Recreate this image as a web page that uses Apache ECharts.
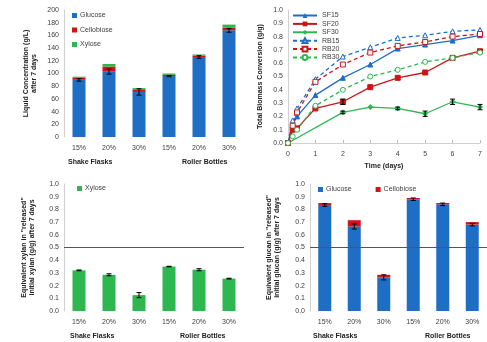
<!DOCTYPE html>
<html>
<head>
<meta charset="utf-8">
<script src="https://cdn.jsdelivr.net/npm/echarts@6/dist/echarts.min.js"></script>
<style>
  html, body { margin: 0; padding: 0; background: #fff; }
  #chart { width: 487px; height: 342px; }
</style>
</head>
<body>
<div id="chart"></div>
<script>
// data
const categories = ['15%', '20%', '30%', '15%', '20%', '30%'];
const groupLabels = ['Shake Flasks', 'Roller Bottles'];

// top-left: liquid concentration (g/L)
const liqGlucose = [90, 103, 71, 96, 126, 168];
const liqCellobiose = [3, 8, 3, 2, 2, 4];
const liqXylose = [2, 4, 3, 2, 2, 5];
const liqGlucoseErr = [2, 4, 5, 1, 2, 3];

// top-right: total biomass conversion over time
const days = [0, 0.17, 0.33, 1, 2, 3, 4, 5, 6, 7];
const sf15 = [0, 0.14, 0.20, 0.36, 0.49, 0.59, 0.71, 0.74, 0.77, 0.81];
const sf20 = [0, 0.10, 0.11, 0.26, 0.31, 0.42, 0.49, 0.53, 0.64, 0.69];
const sf30 = [0, null, null, null, 0.23, 0.27, 0.26, 0.22, 0.31, 0.27];
const rb15 = [0, 0.17, 0.26, 0.48, 0.65, 0.72, 0.79, 0.81, 0.84, 0.85];
const rb20 = [0, 0.13, 0.23, 0.46, 0.59, 0.68, 0.73, 0.76, 0.80, 0.82];
const rb30 = [0, 0.05, 0.10, 0.28, 0.40, 0.50, 0.55, 0.61, 0.64, 0.68];
const sf20Err = [0, 0, 0, 0, 0.02, 0, 0, 0, 0, 0];
const sf30Err = [0, 0, 0, 0, 0.01, 0, 0.01, 0.02, 0.02, 0.02];

// bottom-left: xylan yield
const xylYield = [0.32, 0.285, 0.125, 0.35, 0.325, 0.255];
const xylErr = [0.003, 0.008, 0.02, 0.002, 0.008, 0.003];

// bottom-right: glucan yield
const gluYield = [0.835, 0.665, 0.265, 0.88, 0.84, 0.68];
const cellYield = [0.015, 0.05, 0.02, 0.01, 0.01, 0.02];
const gluErr = [0.01, 0.02, 0.02, 0.01, 0.01, 0.01];

const BLUE = '#1e6ec6';
const RED = '#cc1519';
const GREEN = '#2db74f';
const FONT = 'Liberation Sans';
const TXT = '#404040';

const chart = echarts.init(document.getElementById('chart'));

const errRender = (params, api) => {
    const x = api.value(0), y = api.value(1), e = api.value(2);
    if (!e) return null;
    const hi = api.coord([x, y + e]);
    const lo = api.coord([x, y - e]);
    const w = 2.5;
    const st = {stroke: '#000', lineWidth: 1};
    return {
        type: 'group',
        children: [
            {type: 'line', shape: {x1: hi[0], y1: hi[1], x2: lo[0], y2: lo[1]}, style: st},
            {type: 'line', shape: {x1: hi[0] - w, y1: hi[1], x2: hi[0] + w, y2: hi[1]}, style: st},
            {type: 'line', shape: {x1: lo[0] - w, y1: lo[1], x2: lo[0] + w, y2: lo[1]}, style: st}
        ]
    };
};

const errSeries = (xi, yi, vals, errs, xs) => ({
    type: 'custom',
    xAxisIndex: xi,
    yAxisIndex: yi,
    renderItem: errRender,
    silent: true,
    z: 5,
    data: vals.map((v, i) => [xs ? xs[i] : i, v, errs[i]]).filter(d => d[1] != null)
});

const catAxis = (gi) => ({
    type: 'category',
    gridIndex: gi,
    data: categories,
    axisLine: {show: false},
    axisTick: {show: false},
    axisLabel: {color: TXT, fontSize: 7, fontFamily: FONT, margin: 8}
});

const valAxis = (gi, max, interval, name, gap, fmt) => ({
    type: 'value',
    gridIndex: gi,
    min: 0,
    max: max,
    interval: interval,
    name: name,
    nameLocation: 'middle',
    nameGap: gap,
    nameTextStyle: {color: '#222', fontSize: 7, fontWeight: 'bold', fontFamily: FONT, lineHeight: 8},
    axisLine: {show: true, lineStyle: {color: '#d0d0d0'}},
    axisTick: {show: false},
    splitLine: {show: false},
    axisLabel: {color: TXT, fontSize: 7, fontFamily: FONT, margin: 5, formatter: fmt}
});

const dec1 = v => v.toFixed(1);
const pairs = arr => days.map((d, i) => [d, arr[i]]).filter(p => p[1] != null);

const lineSeries = (name, arr, color, symbol, dashed) => ({
    name: name,
    type: 'line',
    xAxisIndex: 1,
    yAxisIndex: 1,
    data: pairs(arr),
    connectNulls: true,
    symbol: symbol,
    symbolSize: 5,
    lineStyle: {color: color, width: 1.3, type: dashed ? [4, 3] : 'solid'},
    itemStyle: dashed
        ? {color: '#fff', borderColor: color, borderWidth: 1}
        : {color: color, borderColor: color},
    z: 3
});

const groupText = (left, top, text) => ({
    type: 'text', left: left, top: top,
    style: {text: text, fontSize: 7, fontWeight: 'bold', fontFamily: FONT, fill: '#222'}
});

const legendText = {fontSize: 7, color: TXT, fontFamily: FONT, lineHeight: 7, padding: [0, 0, 0, -2]};

const option = {
    animation: false,
    textStyle: {fontFamily: FONT},
    grid: [
        {left: 64, top: 10, width: 180, height: 127},
        {left: 288, top: 10, width: 192, height: 133},
        {left: 64, top: 184, width: 180, height: 127},
        {left: 310, top: 184, width: 178, height: 127}
    ],
    legend: [
        {
            left: 72, top: 12, padding: 0, orient: 'vertical', itemWidth: 5, itemHeight: 5, itemGap: 7.5,
            icon: 'rect', data: ['Glucose', 'Cellobiose', 'Xylose'],
            textStyle: legendText
        },
        {
            left: 292, top: 12, padding: 0, orient: 'vertical', itemWidth: 24, itemHeight: 6, itemGap: 1.4,
            data: ['SF15', 'SF20', 'SF30', 'RB15', 'RB20', 'RB30'],
            textStyle: {fontSize: 7, color: TXT, fontFamily: FONT, lineHeight: 7}
        },
        {
            left: 77, top: 185, padding: 0, itemWidth: 5, itemHeight: 5, icon: 'rect',
            data: ['Xylose '],
            textStyle: legendText
        },
        {
            left: 318, top: 186, padding: 0, itemWidth: 5, itemHeight: 5, itemGap: 22, icon: 'rect',
            data: ['Glucose ', 'Cellobiose '],
            textStyle: legendText
        }
    ],
    xAxis: [
        catAxis(0),
        {
            type: 'value', gridIndex: 1, min: 0, max: 7, interval: 1,
            name: 'Time (days)', nameLocation: 'middle', nameGap: 20,
            nameTextStyle: {color: '#222', fontSize: 7, fontWeight: 'bold', fontFamily: FONT},
            axisLine: {show: true, lineStyle: {color: '#d0d0d0'}},
            axisTick: {show: true, inside: true, length: 3, lineStyle: {color: '#bbb'}},
            splitLine: {show: false},
            axisLabel: {color: TXT, fontSize: 7, fontFamily: FONT, margin: 8}
        },
        catAxis(2),
        catAxis(3)
    ],
    yAxis: [
        valAxis(0, 200, 20, 'Liquid Concentration (g/L)\nafter 7 days', 26),
        valAxis(1, 1, 0.1, 'Total Biomass Conversion (g/g)', 24, dec1),
        valAxis(2, 1, 0.1, 'Equivalent xylan in "released"\ninitial xylan (g/g) after 7 days', 28, dec1),
        valAxis(3, 1, 0.1, 'Equivalent glucan in "released"\ninitial glucan (g/g) after 7 days', 29, dec1)
    ],
    series: [
        // top-left stacked bars
        {name: 'Glucose', type: 'bar', stack: 'liq', xAxisIndex: 0, yAxisIndex: 0, barWidth: 13,
            itemStyle: {color: BLUE}, data: liqGlucose},
        {name: 'Cellobiose', type: 'bar', stack: 'liq', xAxisIndex: 0, yAxisIndex: 0,
            itemStyle: {color: RED}, data: liqCellobiose},
        {name: 'Xylose', type: 'bar', stack: 'liq', xAxisIndex: 0, yAxisIndex: 0,
            itemStyle: {color: GREEN}, data: liqXylose},
        errSeries(0, 0, liqGlucose, liqGlucoseErr),

        // top-right lines
        lineSeries('SF15', sf15, BLUE, 'triangle', false),
        lineSeries('SF20', sf20, RED, 'rect', false),
        lineSeries('SF30', sf30, GREEN, 'diamond', false),
        lineSeries('RB15', rb15, BLUE, 'triangle', true),
        lineSeries('RB20', rb20, RED, 'rect', true),
        lineSeries('RB30', rb30, GREEN, 'circle', true),
        errSeries(1, 1, sf20, sf20Err, days),
        errSeries(1, 1, sf30, sf30Err, days),

        // bottom-left xylan
        {name: 'Xylose ', type: 'bar', xAxisIndex: 2, yAxisIndex: 2, barWidth: 13,
            itemStyle: {color: GREEN}, data: xylYield,
            markLine: {silent: true, symbol: 'none', label: {show: false},
                lineStyle: {color: '#555', width: 1, type: 'solid'}, data: [{yAxis: 0.5}]}},
        errSeries(2, 2, xylYield, xylErr),

        // bottom-right glucan
        {name: 'Glucose ', type: 'bar', stack: 'glu', xAxisIndex: 3, yAxisIndex: 3, barWidth: 13,
            itemStyle: {color: BLUE}, data: gluYield,
            markLine: {silent: true, symbol: 'none', label: {show: false},
                lineStyle: {color: '#555', width: 1, type: 'solid'}, data: [{yAxis: 0.5}]}},
        {name: 'Cellobiose ', type: 'bar', stack: 'glu', xAxisIndex: 3, yAxisIndex: 3,
            itemStyle: {color: RED}, data: cellYield},
        errSeries(3, 3, gluYield, gluErr)
    ],
    graphic: [
        groupText(68, 159, groupLabels[0]),
        groupText(182, 159, groupLabels[1]),
        groupText(70, 333, groupLabels[0]),
        groupText(180, 333, groupLabels[1]),
        groupText(313, 333, groupLabels[0]),
        groupText(425, 333, groupLabels[1])
    ]
};

chart.setOption(option);
</script>
</body>
</html>
